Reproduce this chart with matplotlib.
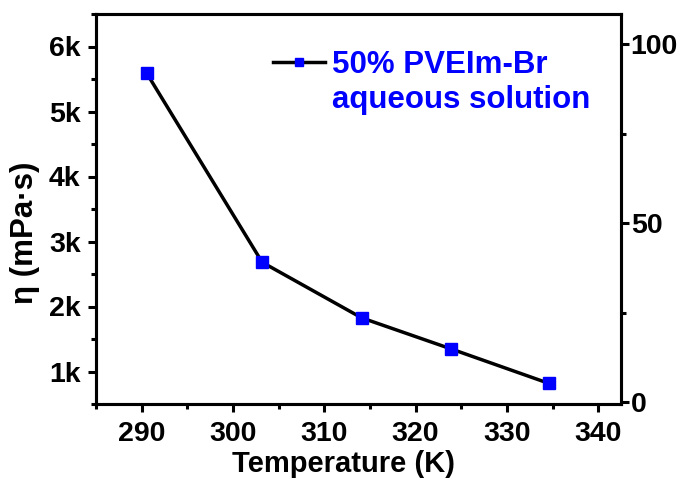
import numpy as np
import matplotlib
matplotlib.use("Agg")
import matplotlib.pyplot as plt
from matplotlib.lines import Line2D
from matplotlib.ticker import MultipleLocator, FuncFormatter

# viscosity of 50% PVEIm-Br aqueous solution vs temperature
temperature = [290.55, 303.2, 314.1, 323.9, 334.6]
viscosity = [5590, 2680, 1825, 1347, 817]

x_ticks = [290, 300, 310, 320, 330, 340]
left_ticks = [1000, 2000, 3000, 4000, 5000, 6000]
right_ticks = [0, 50, 100]

plt.rcParams['font.family'] = ['Liberation Sans', 'DejaVu Sans']
plt.rcParams['font.weight'] = 'bold'

fig = plt.figure(figsize=(6.91, 4.79), dpi=100)
ax = fig.add_axes([96 / 691, 75 / 479, 525 / 691, 390 / 479])

line, = ax.plot(temperature, viscosity, color='black', lw=2.5, marker='s',
                markersize=8.5, markerfacecolor='#0000ff', markeredgecolor='#0000ff')

ax.set_xlim(285, 342.5)
ax.set_ylim(500, 6500)
ax.set_xticks(x_ticks)
ax.xaxis.set_minor_locator(MultipleLocator(5))
ax.set_yticks(left_ticks)
ax.yaxis.set_minor_locator(MultipleLocator(500))
ax.yaxis.set_major_formatter(FuncFormatter(lambda v, p: f"{int(v / 1000)}k"))

ax2 = ax.twinx()
ax2.set_ylim(-0.5, 108.4)
ax2.set_yticks(right_ticks)
ax2.yaxis.set_minor_locator(MultipleLocator(25))

for a in (ax, ax2):
    for s in a.spines.values():
        s.set_linewidth(2.2)
    a.tick_params(which='major', direction='out', length=6, width=2.2,
                  labelsize=20.5)
    a.tick_params(which='minor', direction='out', length=3.5, width=2.2)
ax.tick_params(axis='x', which='major', pad=6.5)
ax.tick_params(axis='y', which='major', pad=5)
ax2.tick_params(axis='y', which='major', pad=1)
for lab in ax.get_xticklabels() + ax.get_yticklabels() + ax2.get_yticklabels():
    lab.set_fontweight('bold')

ax.set_xlabel('Temperature (K)', fontsize=21, fontweight='bold')
ax.xaxis.set_label_coords(0.472, -0.118)
ax.set_ylabel('η (mPa·s)', fontsize=22.5, fontweight='bold')
ax.yaxis.set_label_coords(-0.107, 0.44)

blank = Line2D([], [], linestyle='none')
leg = fig.legend([line, blank], ['50% PVEIm-Br', 'aqueous solution'],
                 loc='upper left', bbox_to_anchor=(273 / 691, 1 - 50 / 479),
                 frameon=False, borderpad=0, borderaxespad=0,
                 handlelength=1.65, handletextpad=0.25, labelspacing=0.15,
                 markerscale=0.6, prop={'weight': 'bold', 'size': 22.5})
for t in leg.get_texts():
    t.set_color('#0000ff')

fig.savefig('out.png', dpi=100)
